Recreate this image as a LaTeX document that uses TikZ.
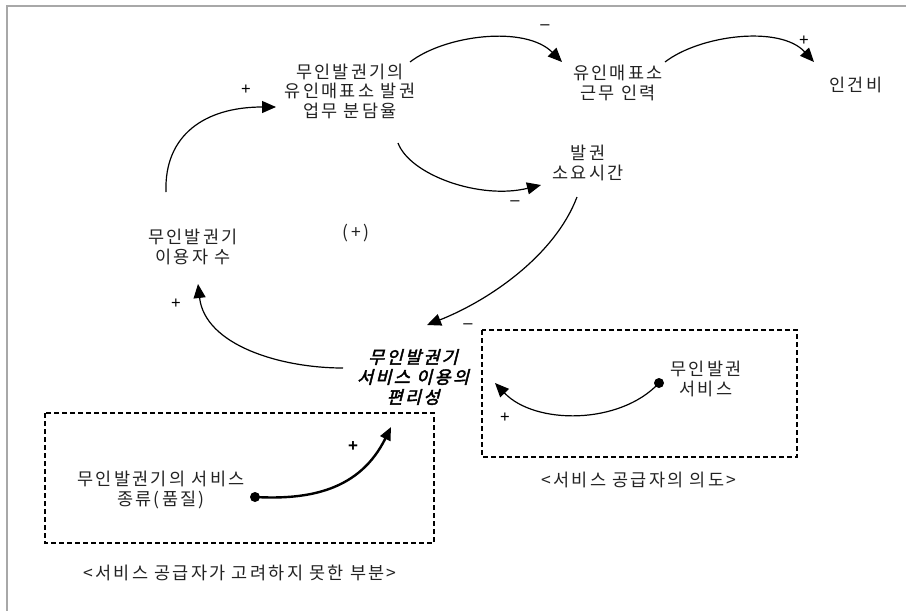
\documentclass[tikz,border=0pt]{standalone}
\usepackage{fontspec}
\usetikzlibrary{arrows.meta,calc}
\newfontfamily\kr[LetterSpace=13]{Noto Sans CJK KR}
\newfontfamily\krit[LetterSpace=13,FakeSlant=0.25,FakeBold=2.5]{Noto Sans CJK KR}
\newfontfamily\signfont{Liberation Sans}
\definecolor{txt}{HTML}{222222}
\definecolor{frame}{HTML}{A8A8A8}
\tikzset{
  lbl/.style={inner sep=0pt, align=center, text=txt, font={\kr\fontsize{17.5}{19.5}\selectfont}},
  emph/.style={inner sep=0pt, align=center, text=black, font={\krit\fontsize{17.5}{20}\selectfont}},
  sgn/.style={inner sep=0pt, text=black, font={\signfont\fontsize{16.5}{16.5}\selectfont}},
  link/.style={line width=1.2pt, -{Triangle[length=14pt,width=12pt]}},
  thick link/.style={line width=2.4pt, -{Triangle[length=13pt,width=11pt]}},
  dbox/.style={line width=1.1pt, dash pattern=on 5pt off 3pt},
  dot/.style={circle, fill=black, inner sep=0pt, minimum size=10pt}
}
\begin{document}
\begin{tikzpicture}[x=1pt,y=-1pt]
\useasboundingbox (0,0) rectangle (906,611);
\draw[frame, line width=1.5pt] (7,611) -- (7,6) -- (906,6);

% nodes
\node[lbl] (share) at (350,91) {무인발권기의\\유인매표소 발권\\업무 분담율};
\node[lbl] (staff) at (618,83) {유인매표소\\근무 인력};
\node[lbl] (cost) at (856,85) {인건비};
\node[lbl] (time) at (588,163) {발권\\소요시간};
\node[lbl] (users) at (193,247) {무인발권기\\이용자 수};
\node[lbl] (loop) at (356,233) {(+)};
\node[emph] (conv) at (413,377) {무인발권기\\서비스 이용의\\편리성};
\node[lbl] (svc) at (706,379) {무인발권\\서비스};
\node[lbl] (kind) at (161,490) {무인발권기의 서비스\\종류(품질)};
\node[lbl] (cap1) at (240,573) {<서비스 공급자가 고려하지 못한 부분>};
\node[lbl] (cap2) at (639,480) {<서비스 공급자의 의도>};

% dashed boxes
\draw[dbox] (45,413) rectangle (434,543);
\draw[dbox] (482,330) rectangle (797,457);

% dots
\node[dot] (d1) at (659,383) {};
\node[dot] (d2) at (255,497) {};

% connectors
\draw[link] ($(users)+(-27,-55)$) .. controls (164,135) and (205,107) .. ($(share)+(-74,16)$);
\draw[link] ($(share)+(60,-29)$) .. controls (445,35) and (525,25) .. ($(staff)+(-56,-21)$);
\draw[link] ($(staff)+(47,-21)$) .. controls (700,35) and (780,25) .. ($(cost)+(-42,-23)$);
\draw[link] ($(share)+(48,52)$) .. controls (410,175) and (480,200) .. ($(time)+(-47,22)$);
\draw[link] ($(time)+(-11,34)$) .. controls (555,255) and (490,300) .. ($(conv)+(14,-52)$);
\draw[link] ($(conv)+(-70,-9)$) .. controls (280,368) and (205,345) .. ($(users)+(5,37)$);
\draw[link] (d1.center) .. controls (620,425) and (535,425) .. ($(conv)+(82,6)$);
\draw[thick link] (d2.center) .. controls (310,500) and (360,490) .. ($(conv)+(-22,50)$);

% signs
\node[sgn] at (246,90) {+};
\node[sgn] at (545,27) {–};
\node[sgn] at (804,41) {+};
\node[sgn] at (515,203) {–};
\node[sgn] at (468,326) {–};
\node[sgn] at (176,304) {+};
\node[sgn] at (505,418) {+};
\node[sgn, font={\signfont\bfseries\fontsize{17}{17}\selectfont}] at (353,447) {+};
\end{tikzpicture}
\end{document}
